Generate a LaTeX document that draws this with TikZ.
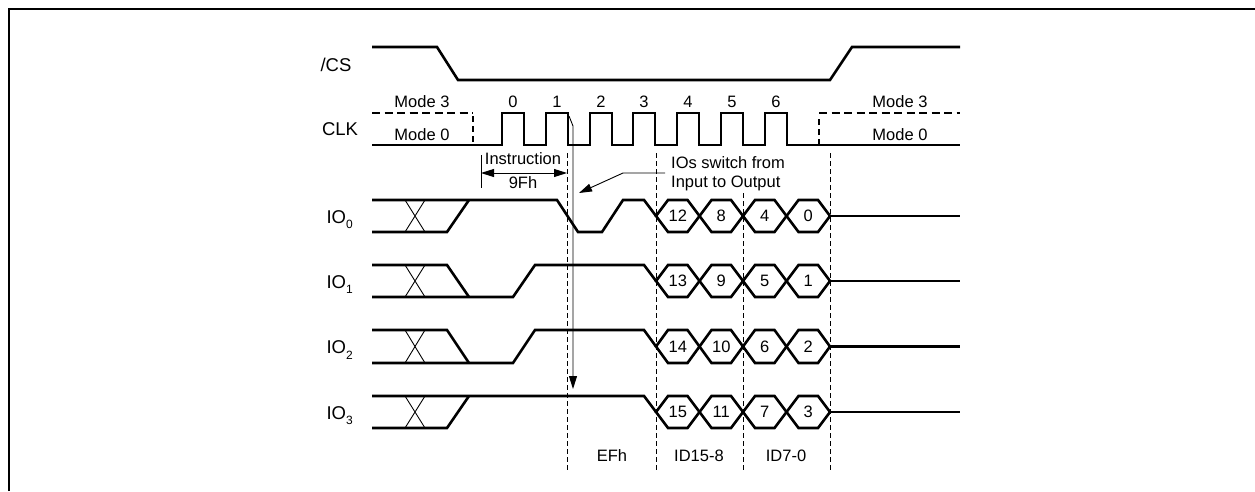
\documentclass[tikz,border=0pt]{standalone}
\usepackage{fontspec}
\setmainfont{Liberation Sans}
\usetikzlibrary{arrows.meta}
\begin{document}
\begin{tikzpicture}[x=1pt,y=-1pt,
  sig/.style={line width=2.6pt},
  modedash/.style={line width=2.6pt, dash pattern=on 8pt off 4.5pt},
  modedashv/.style={line width=2.6pt, dash pattern=on 6pt off 4pt},
  thinline/.style={line width=0.9pt},
  guide/.style={line width=0.9pt, dash pattern=on 5pt off 3pt},
  txt/.style={font=\fontsize{16.5}{19}\selectfont, inner sep=0pt, anchor=base},
  signame/.style={font=\fontsize{18.5}{21}\selectfont, inner sep=0pt, anchor=base},
  tip/.style={-{Triangle[length=13pt,width=8pt]}},
  dimtip/.style={{Triangle[length=13pt,width=8pt]}-{Triangle[length=13pt,width=8pt]}},
]
\useasboundingbox (0,0) rectangle (1255,491);
% frame
\draw[line width=2.3pt] (9,491) -- (9,9) -- (1255,9);

% labels
\node[signame] (cs) at (336,71) {/CS};
\node[signame] (clk) at (340,135) {CLK};
\node[signame, anchor=base east] (io0) at (353,223) {IO\raisebox{-5.5pt}{\fontsize{12}{12}\selectfont 0}};
\node[signame, anchor=base east] (io1) at (353,288) {IO\raisebox{-5.5pt}{\fontsize{12}{12}\selectfont 1}};
\node[signame, anchor=base east] (io2) at (353,353.5) {IO\raisebox{-5.5pt}{\fontsize{12}{12}\selectfont 2}};
\node[signame, anchor=base east] (io3) at (353,419) {IO\raisebox{-5.5pt}{\fontsize{12}{12}\selectfont 3}};

% /CS
\draw[sig] (372,47) -- (437,47) -- (458,80) -- (830,80) -- (852,47) -- (960,47);

% CLK
\draw[modedash] (372,113) -- (473,113);
\draw[modedashv] (473,116) -- (473,145);
\draw[modedashv] (819,145) -- (819,116);
\draw[modedash] (819,113) -- (960,113);
\draw[sig] (372,145) -- (502,145) -- (502,113) -- (524,113) -- (524,145)
  -- (546,145) -- (546,113) -- (568,113) -- (568,145)
  -- (590,145) -- (590,113) -- (612,113) -- (612,145)
  -- (633,145) -- (633,113) -- (655,113) -- (655,145)
  -- (677,145) -- (677,113) -- (699,113) -- (699,145)
  -- (721,145) -- (721,113) -- (743,113) -- (743,145)
  -- (765,145) -- (765,113) -- (787,113) -- (787,145) -- (960,145);
\foreach \n/\x in {0/513,1/557,2/601,3/644,4/688,5/732,6/776}
  \node[txt] (c\n) at (\x,107) {\n};
\node[txt] (m3l) at (422,107) {Mode 3};
\node[txt] (m0l) at (422,140) {Mode 0};
\node[txt] (m3r) at (900,107) {Mode 3};
\node[txt] (m0r) at (900,140) {Mode 0};

% guide lines
\draw[guide] (567.5,153) -- (567.5,470);
\draw[guide] (656,153) -- (656,470);
\draw[guide] (743,193) -- (743,470);
\draw[guide] (830,153) -- (830,470);

% instruction dimension
\draw[thinline] (481,155) -- (481,188);
\coordinate (dL) at (481,173);
\coordinate (dR) at (567,173);
\draw[thinline, dimtip] (dL) -- (dR);
\node[txt] (instr) at (523,164) {Instruction};
\node[txt] (ninefh) at (523,188) {9Fh};

% switch annotation
\node[txt, anchor=base west] (sw1) at (671,168) {IOs switch from};
\node[txt, anchor=base west] (sw2) at (671,187) {Input to Output};
\coordinate (lA) at (665,173);
\coordinate (lB) at (623,173);
\coordinate (lC) at (579,193);
\draw[thinline, tip] (lA) -- (lB) -- (lC);

% long arrow from CLK edge
\coordinate (aS) at (569,116);
\coordinate (aB) at (573,126);
\coordinate (aE) at (573,389);
\draw[thinline, tip] (aS) -- (aB) -- (aE);

% IO waveforms
\draw[sig] (372,200) -- (557,200) -- (578,232) -- (602,232) -- (623,200) -- (644,200) -- (656,216);
\draw[sig] (372,232) -- (447,232) -- (469,200);
\draw[sig] (372,265) -- (447,265) -- (469,297);
\draw[sig] (372,297) -- (513,297) -- (535,265) -- (644,265) -- (656,281);
\draw[sig] (372,330) -- (447,330) -- (469,363);
\draw[sig] (372,363) -- (513,363) -- (535,330) -- (644,330) -- (656,346.5);
\draw[sig] (372,396) -- (644,396) -- (656,412);
\draw[sig] (372,428) -- (447,428) -- (469,396);

\foreach \r/\T/\B/\a/\b/\c/\d in {0/200/232/12/8/4/0, 1/265/297/13/9/5/1, 2/330/363/14/10/6/2, 3/396/428/15/11/7/3} {
  \pgfmathsetmacro{\M}{(\T+\B)/2}
  \draw[thinline] (405,\T) -- (425,\B) (405,\B) -- (425,\T);
  \foreach \i/\lab in {0/\a,1/\b,2/\c,3/\d} {
    \pgfmathsetmacro{\xa}{656+43.5*\i}
    \pgfmathsetmacro{\xb}{\xa+43.5}
    \draw[sig] (\xa,\M) -- (\xa+12,\T) -- (\xb-12,\T) -- (\xb,\M) -- (\xb-12,\B) -- (\xa+12,\B) -- cycle;
    \node[txt] (h\r\i) at ({(\xa+\xb)/2},\M+5.5) {\lab};
  }
  \draw[sig] (830,\M) -- (960,\M);
}

% bottom labels
\node[txt] (efh) at (612,461) {EFh};
\node[txt] (id158) at (699,461) {ID15-8};
\node[txt] (id70) at (786,461) {ID7-0};
\end{tikzpicture}
\end{document}
